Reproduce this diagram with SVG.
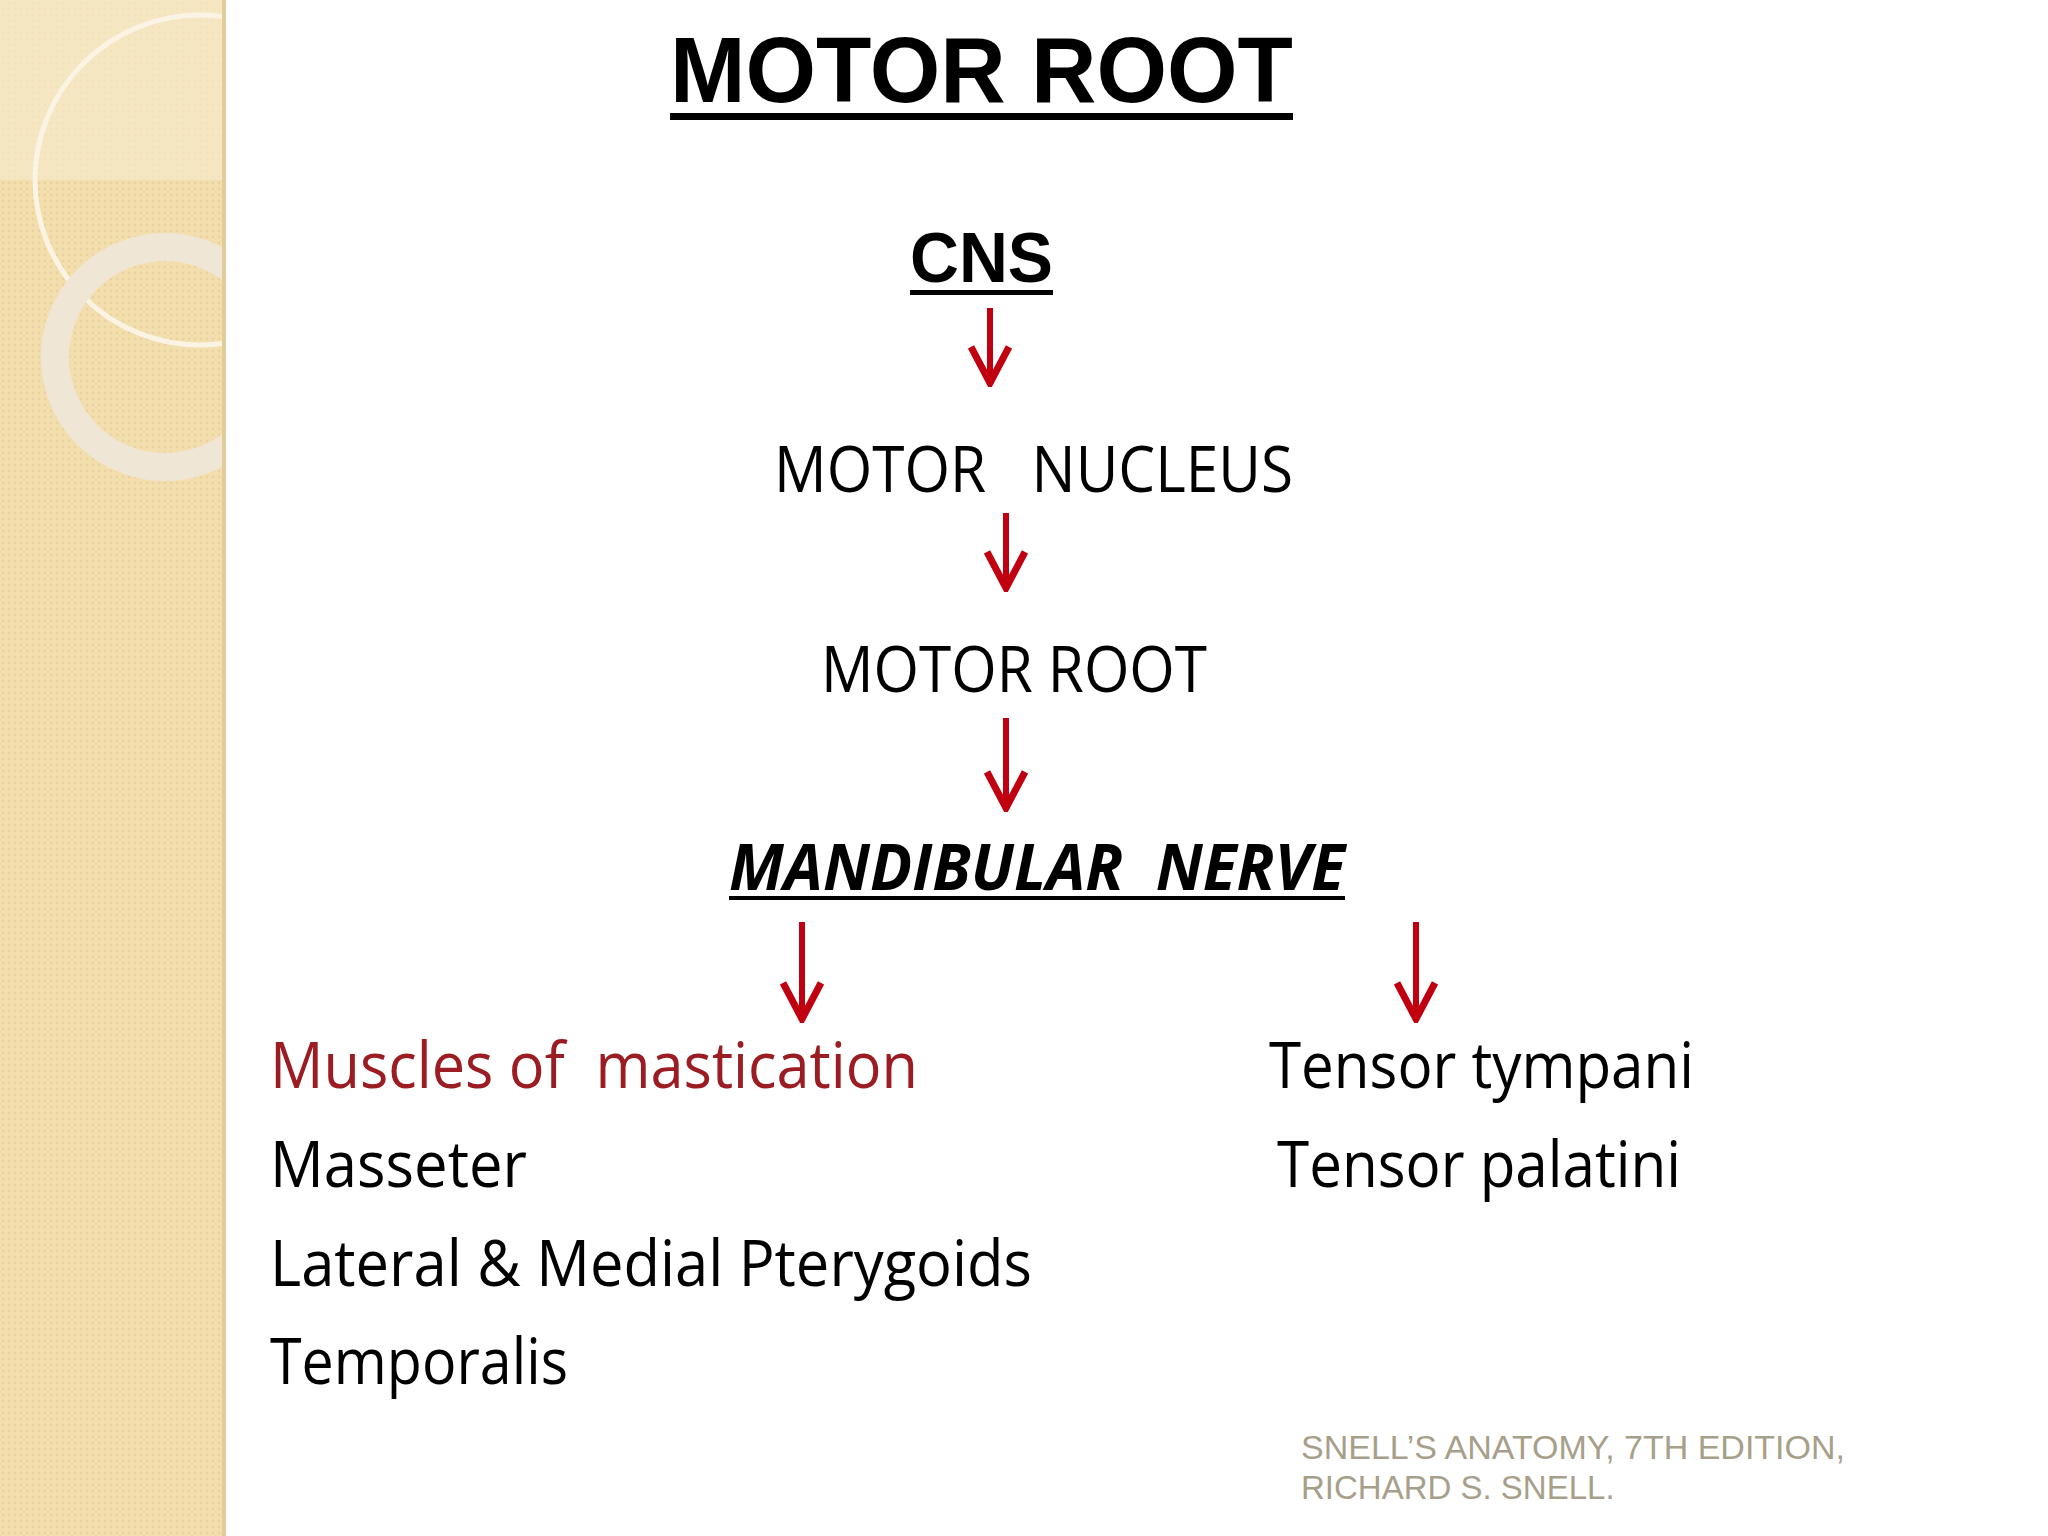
<svg xmlns="http://www.w3.org/2000/svg" width="2048" height="1536" viewBox="0 0 2048 1536">
<defs>
<marker id="ah" viewBox="0 0 44 44" refX="40" refY="22" markerWidth="44" markerHeight="44" markerUnits="userSpaceOnUse" orient="auto">
<path d="M4,3 L40,22 L4,41" fill="none" stroke="#c00010" stroke-width="7"/>
</marker>
<pattern id="dots" width="6" height="6" patternUnits="userSpaceOnUse"><rect width="6" height="6" fill="#f3dfae"/><circle cx="3" cy="3" r="1.4" fill="#ead2a0"/></pattern>
<clipPath id="band"><rect width="226" height="1536"/></clipPath>
</defs>
<style>
.t{font-family:"Open Sans","Liberation Sans",sans-serif;fill:#000}
.h{font-family:"Liberation Sans",Arial,sans-serif;font-weight:bold;fill:#000}
.a{stroke:#c00010;stroke-width:6;fill:none}
</style>
<rect width="2048" height="1536" fill="#fff"/>
<g id="sidebar">
<rect width="226" height="1536" fill="url(#dots)"/>
<g clip-path="url(#band)">
<rect width="226" height="180" fill="#f8ecd0" opacity="0.6"/>
<circle cx="200" cy="180" r="165" fill="none" stroke="#fbf4e4" stroke-width="5"/>
<circle cx="165" cy="357" r="110" fill="none" stroke="#efe6d5" stroke-width="28"/>
</g>
<rect x="222" width="4" height="1536" fill="#e3cc98"/>
</g>
<g id="title"><text class="h" x="670" y="102" font-size="92" textLength="623" lengthAdjust="spacingAndGlyphs">MOTOR ROOT</text><rect x="670" y="113" width="623" height="7" fill="#000"/></g>
<g id="cns"><text class="h" x="910" y="282" font-size="70" textLength="143" lengthAdjust="spacingAndGlyphs">CNS</text><rect x="910" y="290" width="143" height="5" fill="#000"/></g>
<g id="nucleus"><text class="t" x="774" y="492" font-size="64" textLength="519" lengthAdjust="spacingAndGlyphs">MOTOR &#160;&#160;NUCLEUS</text></g>
<g id="root"><text class="t" x="821" y="692" font-size="64" textLength="386" lengthAdjust="spacingAndGlyphs">MOTOR ROOT</text></g>
<g id="mandibular"><text class="t" x="729" y="890" font-size="64" font-weight="bold" font-style="italic" textLength="616" lengthAdjust="spacingAndGlyphs">MANDIBULAR &#160;NERVE</text><rect x="729" y="896" width="616" height="4" fill="#000"/></g>
<g id="muscles">
<text class="t" x="270" y="1088" font-size="64" style="fill:#9b1c22" textLength="648" lengthAdjust="spacingAndGlyphs">Muscles of &#160;mastication</text>
<text class="t" x="270" y="1187" font-size="64" textLength="257" lengthAdjust="spacingAndGlyphs">Masseter</text>
<text class="t" x="270" y="1286" font-size="64" textLength="762" lengthAdjust="spacingAndGlyphs">Lateral &amp; Medial Pterygoids</text>
<text class="t" x="270" y="1384" font-size="64" textLength="298" lengthAdjust="spacingAndGlyphs">Temporalis</text>
</g>
<g id="tensor">
<text class="t" x="1269" y="1088" font-size="64" textLength="425" lengthAdjust="spacingAndGlyphs">Tensor tympani</text>
<text class="t" x="1277" y="1187" font-size="64" textLength="404" lengthAdjust="spacingAndGlyphs">Tensor palatini</text>
</g>
<g id="ref">
<text x="1301" y="1459" font-family="Liberation Sans,Arial,sans-serif" font-size="33" fill="#a89f8a" textLength="544" lengthAdjust="spacingAndGlyphs">SNELL’S ANATOMY, 7TH EDITION,</text>
<text x="1301" y="1499" font-family="Liberation Sans,Arial,sans-serif" font-size="33" fill="#a89f8a">RICHARD S. SNELL.</text>
</g>
<g id="connectors">
<line class="a" x1="990" y1="308" x2="990" y2="383" marker-end="url(#ah)"/>
<line class="a" x1="1006" y1="513" x2="1006" y2="588" marker-end="url(#ah)"/>
<line class="a" x1="1006" y1="718" x2="1006" y2="808" marker-end="url(#ah)"/>
<line class="a" x1="802" y1="922" x2="802" y2="1019" marker-end="url(#ah)"/>
<line class="a" x1="1416" y1="922" x2="1416" y2="1019" marker-end="url(#ah)"/>
</g>
</svg>
